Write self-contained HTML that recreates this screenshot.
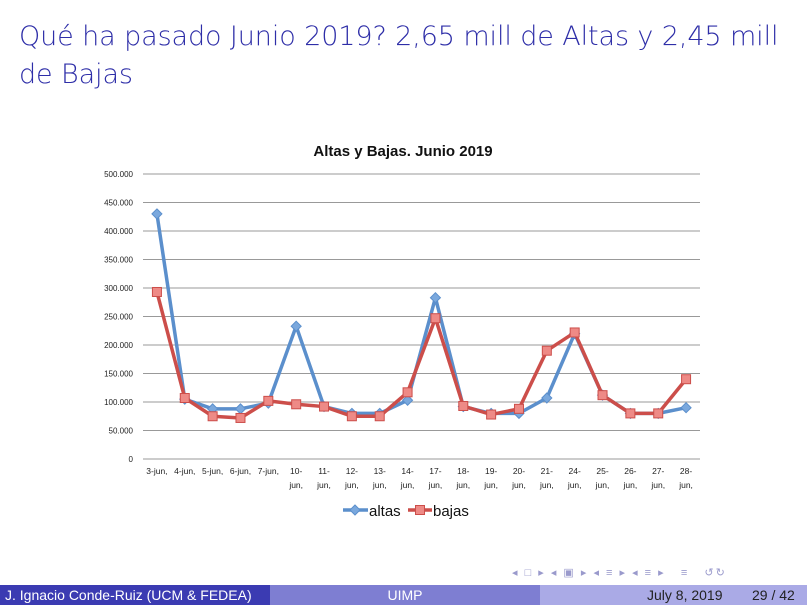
<!DOCTYPE html>
<html><head><meta charset="utf-8"><style>
body{margin:0;width:807px;height:605px;background:#fff;overflow:hidden;position:relative;font-family:"Liberation Sans",sans-serif}
#title{position:absolute;left:19px;top:18px;color:#2e2ea8;font-size:27px;line-height:38px;font-family:"DejaVu Sans","Liberation Sans",sans-serif;font-weight:200;letter-spacing:-0.1px}
#footer{position:absolute;left:0;top:585px;width:807px;height:20px;font-size:14px;color:#fff;font-family:"Liberation Sans",sans-serif}
#footer div{position:absolute;top:0;height:20px;line-height:20px}
</style></head><body>
<div id="title">Qué ha pasado Junio 2019? 2,65 mill de Altas y 2,45 mill<br>de Bajas</div>
<svg id="chart" width="807" height="560" style="position:absolute;left:0;top:0"></svg>
<div style="position:absolute;left:512px;top:566px;font-size:11px;color:#9a9acc;letter-spacing:2px">◂ □ ▸ ◂ ▣ ▸ ◂ ≡ ▸ ◂ ≡ ▸ &nbsp; ≡ &nbsp; ↺↻</div>
<div id="footer">
<div style="left:0;width:270px;background:#3b3bb2;padding-left:5px;box-sizing:border-box">J. Ignacio Conde-Ruiz (UCM &amp; FEDEA)</div>
<div style="left:270px;width:270px;background:#7e7ed2;text-align:center">UIMP</div>
<div style="left:540px;width:267px;background:#aaaae6;color:#222"><span style="position:absolute;left:107px">July 8, 2019</span><span style="position:absolute;left:212px">29 / 42</span></div>
</div>
<script>
const days=["3","4","5","6","7","10","11","12","13","14","17","18","19","20","21","24","25","26","27","28"];
const altas=[430000,105000,88000,88000,98000,233000,92000,80000,80000,103000,283000,92000,80000,80000,107000,220000,112000,80000,80000,90000];
const bajas=[293000,107000,75000,72000,102000,96000,92000,75000,75000,117000,247000,93000,78000,88000,190000,222000,112000,80000,80000,140000];
const yTicks=[0,50000,100000,150000,200000,250000,300000,350000,400000,450000,500000];
const yLabels=["0","50.000","100.000","150.000","200.000","250.000","300.000","350.000","400.000","450.000","500.000"];
const svg=document.getElementById('chart');const NS="http://www.w3.org/2000/svg";
const x0=143,x1=700,yb=459,yt=174;
const y=v=>yb-(v/500000)*(yb-yt);
const step=(x1-x0)/days.length;
const x=i=>x0+step*(i+0.5);
function mk(t,a,p){const e=document.createElementNS(NS,t);for(const k in a)e.setAttribute(k,a[k]);(p||svg).appendChild(e);return e;}
let t=mk('text',{x:403,y:156,'text-anchor':'middle','font-size':15,'font-weight':'bold',fill:'#111'});t.textContent="Altas y Bajas.  Junio 2019";


yTicks.forEach((v,i)=>{
 const l=mk('line',{x1:x0,x2:x1,y1:y(v),y2:y(v),stroke:'#999','stroke-width':1});
 
 
 const tx=mk('text',{x:133,y:y(v)+3,'text-anchor':'end','font-size':8,fill:'#222'});tx.textContent=yLabels[i];
 
 
});
days.forEach((d,i)=>{
 const tx=mk('text',{x:x(i),y:474,'text-anchor':'middle','font-size':8.5,fill:'#222'});
 
 
 if(d.length<2){tx.textContent=d+"-jun,";}
 else{tx.textContent=d+"-";const t2=mk('text',{x:x(i),y:488,'text-anchor':'middle','font-size':8.5,fill:'#222'});t2.textContent="jun,";
 
 }
});
function series(vals,col,mcol,marker,name){
 const g=mk('g',{});
 
 
 mk('polyline',{points:vals.map((v,i)=>x(i)+','+y(v)).join(' '),fill:'none',stroke:col,'stroke-width':3.5,'stroke-linejoin':'round'},g);
 vals.forEach((v,i)=>{
  let m;
  if(marker==='d')m=mk('polygon',{points:`${x(i)},${y(v)-5} ${x(i)+5},${y(v)} ${x(i)},${y(v)+5} ${x(i)-5},${y(v)}`,fill:mcol,stroke:col,'stroke-width':1},g);
  else m=mk('rect',{x:x(i)-4.5,y:y(v)-4.5,width:9,height:9,fill:mcol,stroke:col,'stroke-width':1},g);
  
  
 });
}
series(altas,'#5b8fcc','#7aa8dd','d','altas');
series(bajas,'#cc4e4a','#ee8a86','s','bajas');
const lg=mk('g',{});


mk('line',{x1:343,x2:368,y1:510,y2:510,stroke:'#5b8fcc','stroke-width':3.5},lg);
mk('polygon',{points:'355,505 360,510 355,515 350,510',fill:'#7aa8dd',stroke:'#5b8fcc'},lg);
let a=mk('text',{x:369,y:516,'font-size':15,fill:'#111'},lg);a.textContent="altas";
mk('line',{x1:408,x2:432,y1:510,y2:510,stroke:'#cc4e4a','stroke-width':3.5},lg);
mk('rect',{x:415.5,y:505.5,width:9,height:9,fill:'#ee8a86',stroke:'#cc4e4a'},lg);
let b=mk('text',{x:433,y:516,'font-size':15,fill:'#111'},lg);b.textContent="bajas";
</script>
</body></html>
